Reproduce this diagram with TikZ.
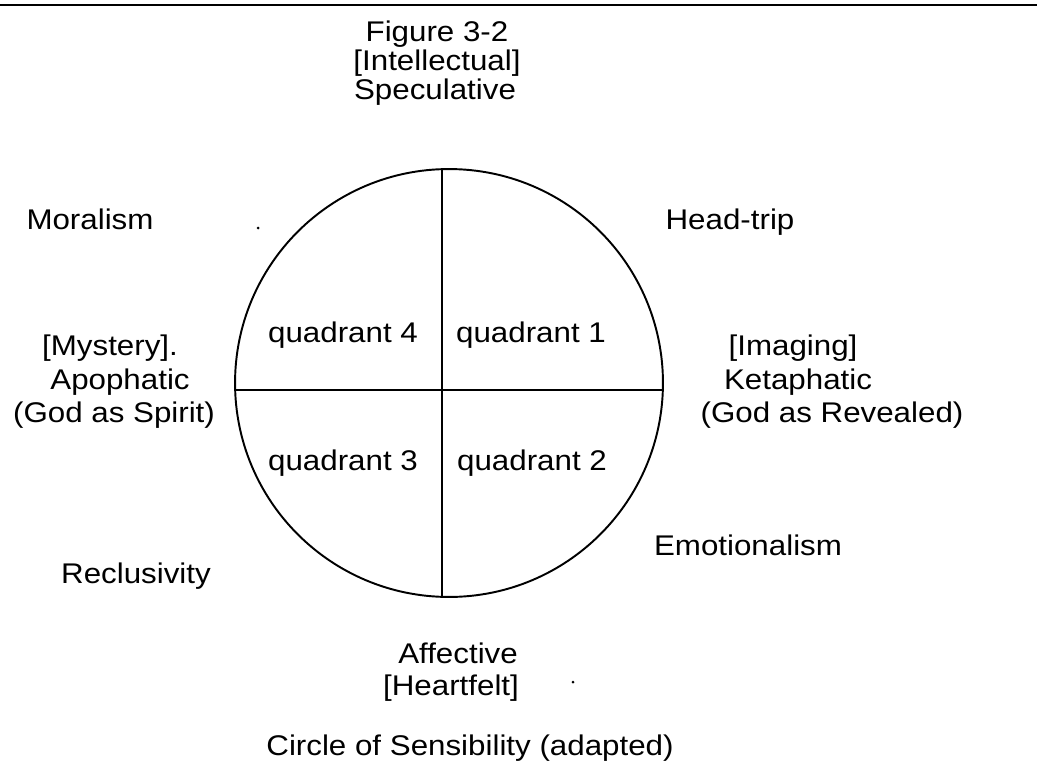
\documentclass[tikz,border=0pt]{standalone}
\usepackage{fontspec}
\setmainfont[FakeStretch=1.1]{Liberation Sans}
\usetikzlibrary{positioning}

\begin{document}
\begin{tikzpicture}[x=0.02cm,y=-0.02cm,
  lbl/.style={anchor=base,inner sep=0pt,font=\fontsize{16.2}{18}\selectfont}]
  \def\r{4.28cm} % radius of the circle
  \def\speck{0.03cm} % radius of the stray dots
  \useasboundingbox (0,0) rectangle (1037,764);
  % rule at the top of the page
  \coordinate (ruleL) at (0,5);
  \coordinate (ruleR) at (1037,5);
  \draw[line width=1pt] (ruleL) -- (ruleR);
  % the circle and its cross
  \coordinate (ctr) at (449,383);
  \coordinate (vtop) at (442,169);
  \coordinate (vbot) at (442,597);
  \coordinate (hlft) at (235,390);
  \coordinate (hrgt) at (663,390);
  \draw[line width=1.1pt] (ctr) circle [radius=\r];
  \draw[line width=1.1pt] (vtop) -- (vbot);
  \draw[line width=1.1pt] (hlft) -- (hrgt);
  % quadrants
  \node[lbl] (q4) at (343,342) {quadrant 4};
  \node[lbl] (q1) at (531,342) {quadrant 1};
  \node[lbl] (q3) at (343,470) {quadrant 3};
  \node[lbl] (q2) at (532,470) {quadrant 2};
  % title and poles
  \node[lbl] (fig) at (437,41) {Figure 3-2};
  \node[lbl] (intel) at (437,70) {[Intellectual]};
  \node[lbl] (spec) at (435,99) {Speculative};
  \node[lbl] (aff) at (458,663) {Affective};
  \node[lbl] (heart) at (451,695) {[Heartfelt]};
  \node[lbl] (myst) at (110,355) {[Mystery].};
  \node[lbl] (apo) at (120,389) {Apophatic};
  \node[lbl] (spirit) at (114,422) {(God as Spirit)};
  \node[lbl] (imag) at (793,355) {[Imaging]};
  \node[lbl] (keta) at (798,389) {Ketaphatic};
  \node[lbl] (reveal) at (832,422) {(God as Revealed)};
  % corners
  \node[lbl] (moral) at (90,229) {Moralism};
  \node[lbl] (head) at (730,229) {Head-trip};
  \node[lbl] (emo) at (748,555) {Emotionalism};
  \node[lbl] (recl) at (136,583) {Reclusivity};
  % caption
  \node[lbl] (capt) at (470,755) {Circle of Sensibility (adapted)};
  % stray dots
  \foreach \p in {(258,228),(573,682)} {
    \fill \p circle (\speck);
  }
\end{tikzpicture}
\end{document}
